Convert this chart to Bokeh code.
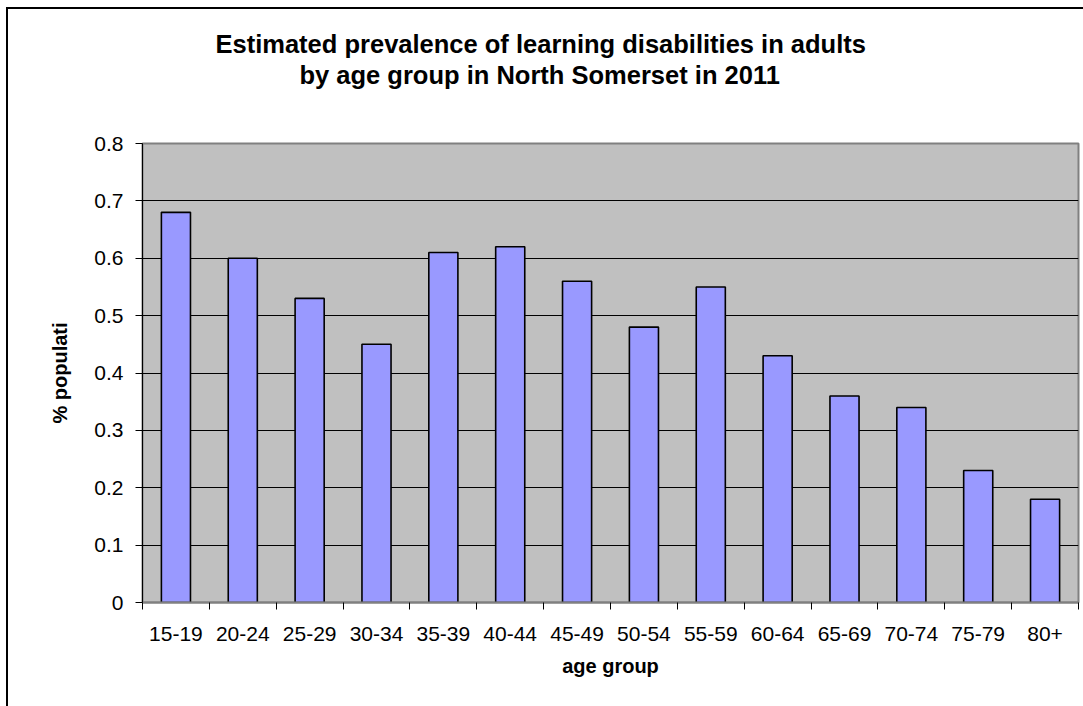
from bokeh.plotting import figure
from bokeh.models import (ColumnDataSource, Range1d, FixedTicker, Title,
                          NumeralTickFormatter)
from bokeh.embed import file_html
from bokeh.resources import INLINE

# ---- data ----
categories = ["15-19", "20-24", "25-29", "30-34", "35-39", "40-44", "45-49",
              "50-54", "55-59", "60-64", "65-69", "70-74", "75-79", "80+"]
values = [0.68, 0.60, 0.53, 0.45, 0.61, 0.62, 0.56, 0.48, 0.55, 0.43, 0.36,
          0.34, 0.23, 0.18]
y_ticks = [0, 0.1, 0.2, 0.3, 0.4, 0.5, 0.6, 0.7, 0.8]
title_line1 = "Estimated prevalence of learning disabilities in adults"
title_line2 = "by age group in North Somerset in 2011"
x_label = "age group"
y_label = "% populati"

FONT = "Liberation Sans"

centers = [i + 0.5 for i in range(len(categories))]
src = ColumnDataSource(dict(x=centers, top=values, cat=categories))

p = figure(width=1075, height=697, output_backend="svg", toolbar_location=None,
           title=None, x_range=Range1d(0, len(categories)),
           y_range=Range1d(y_ticks[0], y_ticks[-1]),
           frame_width=936, frame_height=459,
           min_border_left=134, min_border_right=5,
           min_border_top=134, min_border_bottom=104)
p.styles = {"margin-left": "6px", "margin-top": "7px",
            "border-left": "2px solid #000000", "border-top": "2px solid #000000"}

p.background_fill_color = "#C0C0C0"
p.border_fill_color = "#FFFFFF"
p.outline_line_color = "#808080"
p.outline_line_width = 2

p.vbar(x="x", top="top", bottom=0, width=0.435, source=src,
       fill_color="#9999FF", line_color="#000000", line_width=1.6)

# titles: spacer closest to plot, then line 2, then line 1
spacer = Title(text=" ", text_font_size="1px", standoff=51)
t2 = Title(text=title_line2, align="left", offset=157, text_font=FONT,
           text_font_size="25.5px", text_font_style="bold", text_color="#000000",
           standoff=1)
t1 = Title(text=title_line1, align="left", offset=73, text_font=FONT,
           text_font_size="25.5px", text_font_style="bold", text_color="#000000",
           standoff=1)
p.add_layout(spacer, "above")
p.add_layout(t2, "above")
p.add_layout(t1, "above")

# grid
p.xgrid.visible = False
p.ygrid.ticker = FixedTicker(ticks=y_ticks)
p.ygrid.grid_line_color = "#000000"
p.ygrid.grid_line_width = 1

# x axis
xa = p.xaxis[0]
xa.ticker = FixedTicker(ticks=centers, minor_ticks=list(range(len(categories) + 1)))
xa.major_label_overrides = {c: lab for c, lab in zip(centers, categories)}
xa.major_tick_out = 0
xa.major_tick_in = 0
xa.minor_tick_out = 7
xa.minor_tick_in = 0
xa.minor_tick_line_color = "#000000"
xa.axis_line_color = "#808080"
xa.axis_line_width = 2
xa.major_label_text_font = FONT
xa.major_label_text_font_size = "21px"
xa.major_label_text_color = "#000000"
xa.major_label_standoff = 17
xa.axis_label = x_label
xa.axis_label_text_font = FONT
xa.axis_label_text_font_size = "20px"
xa.axis_label_text_font_style = "bold"
xa.axis_label_text_color = "#000000"
xa.axis_label_standoff = 11

# y axis
ya = p.yaxis[0]
ya.ticker = FixedTicker(ticks=y_ticks)
ya.formatter = NumeralTickFormatter(format="0.[0]")
ya.major_tick_out = 7
ya.major_tick_in = 0
ya.minor_tick_out = 0
ya.minor_tick_in = 0
ya.major_tick_line_color = "#000000"
ya.axis_line_color = "#000000"
ya.axis_line_width = 1
ya.major_label_text_font = FONT
ya.major_label_text_font_size = "21px"
ya.major_label_text_color = "#000000"
ya.major_label_standoff = 12
ya.axis_label = y_label
ya.axis_label_text_font = FONT
ya.axis_label_text_font_size = "20px"
ya.axis_label_text_font_style = "bold"
ya.axis_label_text_color = "#000000"
ya.axis_label_standoff = 20

open("out.html", "w").write(file_html(p, INLINE))
